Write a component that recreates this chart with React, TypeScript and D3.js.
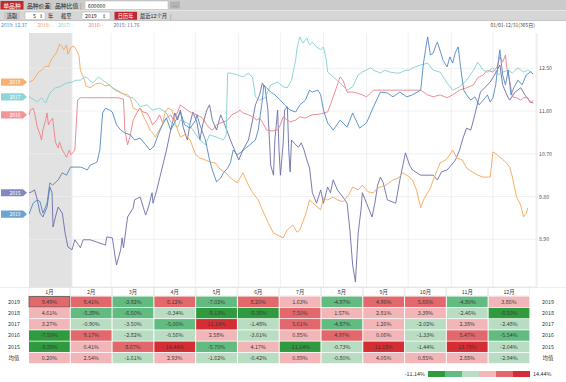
import React from "react";
import * as d3 from "d3";

const FONT = "'Noto Sans CJK SC', 'Noto Sans', sans-serif";

const MONTHS = ["1月", "2月", "3月", "4月", "5月", "6月", "7月", "8月", "9月", "10月", "11月", "12月"];
const MONTH_START_DAYS = [0, 31, 59, 90, 120, 151, 181, 212, 243, 273, 304, 334, 365];
const YEARS = ["2019", "2018", "2017", "2016", "2015"];
const Y_TICKS = [8.9, 9.8, 10.7, 11.6, 12.5];

const RET_2019 = [9.49, 9.41, -3.92, 6.12, -7.02, 8.2, 1.63, -4.97, 4.96, 5.66, -4.8, 3.86];
const RET_2018 = [4.61, -5.39, -6.5, -0.34, -9.13, -9.38, 7.5, 1.57, 2.81, 3.39, -2.46, -8.5];
const RET_2017 = [3.27, -0.9, -3.5, -5.0, 11.14, -1.48, 5.61, -4.87, 1.26, -2.02, 2.38, -2.48];
const RET_2016 = [-7.5, 9.17, -2.82, -0.56, 2.58, -3.61, 0.85, 4.97, 0.06, -1.33, 5.47, -5.54];
const RET_2015 = [-8.88, 0.41, 8.67, 14.44, -5.7, 4.17, -11.14, -0.73, 11.18, -1.44, 13.79, -2.04];
const RET_AVG = [0.2, 2.54, -1.61, 2.93, -1.62, -0.42, 0.89, -0.8, 4.05, 0.85, 2.88, -2.94];

// [day of year, price]
const S2018: [number, number][] = [
  [0, 12.21], [3, 12.25], [5, 12.34], [7, 12.42], [9, 12.46], [12, 12.55], [14, 12.53], [16, 12.68], [18, 12.76], [20, 12.84],
  [22, 13.01], [24, 12.95], [25, 12.89], [27, 12.99], [28, 12.8], [30, 12.93], [32, 12.97], [34, 12.89], [36, 12.76], [37, 12.46],
  [40, 12.25], [41, 12.13], [44, 12.09], [48, 12.17], [51, 12.19], [55, 12.13], [58, 12.15], [62, 12.04], [66, 11.98], [71, 11.94],
  [73, 11.88], [75, 11.66], [78, 11.62], [80, 11.66], [83, 11.45], [85, 11.35], [87, 11.2], [89, 11.14], [91, 11.05], [93, 11.16],
  [96, 11.31], [98, 11.58], [100, 11.66], [103, 11.62], [105, 11.37], [107, 11.2], [109, 11.05], [112, 11.1], [116, 10.99], [120, 10.68],
  [123, 10.61], [127, 10.57], [130, 10.53], [134, 10.51], [138, 10.36], [141, 10.32], [145, 10.19], [150, 10.09], [154, 10.3], [158, 10.04],
  [161, 9.88], [165, 9.73], [168, 9.52], [172, 9.26], [176, 9.03], [179, 8.99], [183, 8.93], [186, 9.1], [190, 9.2], [193, 9.05],
  [195, 9.1], [199, 9.41], [202, 9.73], [206, 9.62], [210, 9.52], [212, 9.77], [215, 9.73], [219, 9.79], [222, 9.73], [226, 9.69],
  [230, 9.83], [233, 10.0], [237, 9.94], [240, 10.04], [244, 9.9], [248, 9.88], [251, 9.98], [253, 10.0], [257, 10.04], [262, 10.15],
  [266, 10.19], [269, 10.3], [273, 10.23], [276, 10.15], [279, 9.94], [282, 9.56], [284, 9.73], [287, 9.88], [289, 9.98], [291, 10.15],
  [294, 10.36], [296, 10.51], [300, 10.57], [303, 10.68], [305, 10.78], [308, 10.61], [312, 10.57], [315, 10.4], [319, 10.32], [323, 10.25],
  [327, 10.21], [332, 10.21], [334, 10.74], [337, 10.68], [339, 10.63], [343, 10.53], [346, 10.42], [348, 10.21], [351, 9.79], [354, 9.62],
  [356, 9.37], [358, 9.45], [359, 9.56],
];

const S2017: [number, number][] = [
  [0, 11.9], [3, 11.85], [6, 11.79], [9, 11.88], [12, 11.77], [15, 11.98], [19, 12.09], [22, 12.11], [27, 12.19], [31, 12.21],
  [34, 12.25], [37, 12.25], [40, 12.32], [42, 12.3], [44, 12.23], [46, 12.19], [50, 12.32], [53, 12.25], [56, 12.19], [60, 12.09],
  [66, 12.0], [71, 11.9], [75, 11.88], [78, 11.77], [80, 11.69], [85, 11.73], [89, 11.62], [94, 11.66], [99, 11.56], [102, 11.37],
  [107, 11.26], [109, 11.41], [114, 11.35], [118, 11.2], [123, 10.99], [127, 10.89], [130, 11.1], [135, 11.05], [140, 10.99], [142, 11.1],
  [143, 12.4], [145, 12.4], [150, 12.36], [154, 12.32], [158, 12.4], [161, 12.3], [163, 11.9], [166, 11.83], [170, 11.88], [174, 12.15],
  [179, 12.21], [183, 12.11], [186, 12.09], [189, 12.25], [192, 12.68], [193, 12.93], [195, 13.16], [197, 13.03], [199, 13.1], [200, 13.14],
  [202, 12.99], [204, 13.05], [207, 12.95], [210, 12.89], [212, 12.95], [214, 12.68], [215, 12.42], [219, 12.32], [224, 12.19], [229, 12.04],
  [233, 12.11], [237, 12.36], [240, 12.42], [246, 12.51], [248, 12.46], [253, 12.4], [256, 12.46], [260, 12.42], [264, 12.4], [267, 12.4],
  [271, 12.46], [274, 12.46], [276, 12.51], [282, 12.57], [287, 12.61], [291, 12.46], [296, 12.42], [301, 12.19], [305, 12.04], [310, 12.11],
  [315, 12.25], [320, 12.46], [323, 12.63], [327, 12.46], [330, 12.42], [334, 12.51], [338, 12.36], [341, 12.42], [345, 12.46], [348, 12.4],
  [352, 12.51], [356, 12.42], [359, 12.46], [362, 12.42],
];

const S2016: [number, number][] = [
  [0, 11.52], [1, 11.62], [3, 11.66], [4, 11.56], [6, 11.26], [8, 11.1], [9, 10.99], [10, 11.2], [12, 11.41], [13, 11.56],
  [14, 11.31], [15, 11.37], [17, 11.45], [19, 10.95], [21, 10.82], [22, 10.95], [24, 10.78], [26, 10.68], [27, 10.63], [29, 10.78],
  [30, 10.68], [32, 10.74], [33, 10.78], [35, 11.83], [37, 11.88], [51, 11.88], [64, 11.88], [68, 11.85], [69, 11.2], [71, 10.89],
  [73, 11.1], [75, 11.41], [78, 11.58], [80, 11.66], [82, 11.58], [85, 11.56], [87, 11.45], [89, 11.31], [92, 11.41], [94, 11.52],
  [96, 11.37], [99, 11.45], [102, 11.52], [104, 11.41], [107, 11.58], [109, 11.73], [112, 11.66], [114, 11.62], [117, 11.56], [121, 11.52],
  [125, 11.45], [128, 11.31], [130, 11.24], [132, 11.2], [135, 11.31], [138, 11.35], [140, 11.37], [143, 11.41], [146, 11.52], [150, 11.58],
  [152, 11.62], [154, 11.56], [158, 11.52], [161, 11.48], [164, 11.41], [166, 11.45], [168, 11.37], [171, 11.2], [175, 11.18], [179, 11.2],
  [181, 11.31], [183, 11.48], [186, 11.41], [188, 11.37], [192, 11.41], [195, 11.48], [199, 11.45], [202, 11.5], [204, 11.52], [210, 11.54],
  [215, 11.58], [217, 11.73], [219, 11.9], [222, 12.15], [224, 12.32], [226, 12.25], [229, 12.0], [233, 12.0], [236, 11.98], [240, 11.94],
  [243, 11.9], [246, 11.98], [248, 12.04], [253, 12.04], [260, 12.04], [267, 12.04], [276, 12.04], [282, 12.04], [287, 11.94], [291, 11.9],
  [296, 11.94], [301, 11.88], [305, 11.94], [310, 12.04], [315, 12.09], [320, 12.15], [323, 12.3], [327, 12.36], [330, 12.46], [334, 12.42],
  [337, 12.53], [339, 12.74], [341, 12.63], [343, 12.78], [344, 12.51], [346, 12.25], [348, 11.9], [351, 11.88], [354, 11.83], [356, 11.88],
  [359, 11.88], [361, 11.77], [363, 11.83],
];

const S2019: [number, number][] = [
  [0, 9.43], [3, 9.66], [6, 9.73], [8, 9.69], [10, 9.45], [13, 9.66], [15, 10.09], [17, 10.04], [21, 10.15], [24, 10.3],
  [27, 10.25], [30, 10.42], [31, 10.42], [37, 10.42], [39, 10.4], [42, 10.36], [44, 10.46], [48, 10.51], [49, 10.53], [51, 10.78],
  [53, 11.56], [55, 11.66], [58, 11.62], [60, 11.58], [63, 11.31], [66, 11.2], [69, 11.14], [73, 11.1], [76, 10.99], [80, 11.03],
  [84, 10.89], [87, 10.78], [90, 10.86], [93, 11.1], [96, 11.31], [99, 11.45], [102, 11.2], [105, 11.37], [109, 11.58], [112, 11.31],
  [116, 11.24], [120, 11.41], [121, 11.52], [123, 11.31], [127, 10.99], [130, 10.57], [132, 10.36], [135, 10.11], [138, 10.19], [140, 10.3],
  [143, 10.4], [145, 10.51], [147, 10.78], [150, 10.68], [152, 10.72], [156, 10.82], [159, 10.89], [163, 10.99], [165, 11.2], [168, 11.83],
  [169, 12.15], [171, 12.09], [174, 12.0], [177, 11.94], [181, 11.83], [184, 11.73], [188, 11.62], [192, 11.58], [195, 11.73], [199, 11.83],
  [202, 12.04], [204, 12.0], [208, 12.04], [210, 11.94], [212, 11.62], [215, 11.35], [219, 11.2], [224, 11.41], [229, 11.26], [233, 11.56],
  [238, 11.24], [243, 11.35], [248, 11.69], [253, 12.0], [258, 11.98], [262, 11.9], [267, 12.0], [272, 11.9], [276, 11.94], [282, 12.04],
  [284, 12.61], [286, 12.99], [287, 13.16], [289, 12.78], [291, 12.82], [293, 12.99], [294, 13.05], [297, 12.78], [298, 12.67], [301, 12.53],
  [303, 12.74], [305, 12.61], [307, 12.84], [309, 12.95], [311, 12.46], [313, 12.04], [315, 11.94], [318, 11.83], [321, 11.9], [324, 11.73],
  [327, 11.83], [330, 11.94], [332, 11.79], [334, 11.88], [336, 12.15], [338, 12.68], [339, 12.89], [341, 12.36], [343, 12.15], [345, 12.46],
  [347, 11.94], [349, 12.09], [352, 12.25], [355, 12.15], [358, 12.36], [361, 12.42], [363, 12.38],
];

const S2015: [number, number][] = [
  [0, 9.88], [2, 9.9], [4, 9.94], [6, 9.73], [8, 9.45], [10, 9.37], [13, 9.58], [15, 10.0], [16.6, 9.88], [17.3, 9.16],
  [19, 9.37], [21, 9.58], [24, 9.45], [26, 9.03], [28, 8.74], [31, 8.68], [33, 8.89], [37, 8.72], [39, 8.89], [44, 8.89],
  [49, 8.84], [55, 8.78], [56, 8.95], [60, 8.93], [62, 8.53], [63, 8.36], [66, 8.68], [67, 8.93], [68, 8.72], [71, 9.37],
  [75, 9.56], [76, 9.73], [80, 9.79], [84, 9.41], [86, 9.58], [88.6, 9.88], [89.3, 9.66], [92, 9.94], [96, 10.42], [99, 10.78],
  [102, 11.2], [105, 11.56], [107, 11.41], [109, 11.62], [111, 11.26], [114, 10.99], [116, 11.35], [118, 11.58], [121, 11.35], [123, 10.99],
  [125, 11.31], [128, 11.62], [130, 11.73], [132, 11.41], [135, 11.2], [138, 11.52], [141, 11.31], [145, 10.99], [148, 10.78], [151, 10.57],
  [154, 10.78], [158, 10.99], [161, 11.41], [163, 11.73], [166, 11.94], [168, 12.19], [170, 12.09], [172, 11.62], [174, 10.46], [176, 10.25],
  [177, 10.99], [179, 11.62], [180, 10.78], [181, 10.25], [183, 10.93], [184, 11.62], [186, 11.69], [187, 10.78], [188, 10.32], [189, 10.99],
  [192, 10.89], [194, 10.84], [196, 10.93], [198, 10.78], [200, 10.57], [202, 10.4], [204, 9.88], [207, 9.66], [210, 9.94], [212, 9.66],
  [215, 10.0], [217, 9.88], [219, 10.15], [222, 9.94], [226, 9.79], [229, 9.66], [231, 9.1], [233, 8.36], [235, 8.0], [237, 9.03],
  [239, 9.52], [240, 9.88], [243, 9.66], [247, 9.37], [249, 9.66], [251, 10.04], [253, 10.21], [255, 10.09], [258, 9.73], [264, 9.66],
  [267, 10.15], [271, 10.72], [274, 10.46], [276, 10.36], [282, 10.25], [287, 10.25], [291, 10.25], [294, 10.15], [297, 10.32], [301, 10.36],
  [304, 10.46], [307, 10.57], [310, 10.78], [312, 10.99], [315, 11.24], [318, 11.2], [320, 11.41], [323, 11.77], [325, 12.0], [328, 12.09],
  [332, 12.21], [334, 12.3], [337, 12.46], [339, 12.57], [341, 12.15], [344, 11.94], [346, 11.83], [350, 12.0], [354, 12.09], [357, 11.94],
  [361, 11.79], [363, 11.77],
];

const LEGEND_TEXT = ["2019: 12.37", "2018: -", "2017: -", "2016: -", "2015: 11.76"];

const COL = {
  y2019: "#5089c2",
  y2018: "#f4a65a",
  y2017: "#80d0d2",
  y2016: "#ec8086",
  y2015: "#6a6ca8",
};

const CELL_COLORS = ["#2f9a3e", "#62bb80", "#b9ddc2", "#f3b6b8", "#e2686b", "#d42d33"];

export default function App() {
  const x = d3.scaleLinear().domain([0, 365]).range([29, 536]);
  const y = d3.scaleLinear().domain([7.896, 13.243]).range([287, 33]);
  const line = d3.line<[number, number]>().x((d) => x(d[0])).y((d) => y(d[1]));

  const series = [
    { name: "2015", data: S2015, color: COL.y2015, tag: "#8588c0" },
    { name: "2016", data: S2016, color: COL.y2016, tag: "#f0959a" },
    { name: "2017", data: S2017, color: COL.y2017, tag: "#8fd4d8" },
    { name: "2018", data: S2018, color: COL.y2018, tag: "#f5b273" },
    { name: "2019", data: S2019, color: COL.y2019, tag: "#6ea3cf" },
  ];

  const rows = [RET_2019, RET_2018, RET_2017, RET_2016, RET_2015];
  const all = rows.flat();
  const mn = d3.min(all) as number;
  const mx = d3.max(all) as number;
  const color = d3
    .scaleThreshold<number, string>()
    .domain([(mn * 2) / 3, mn / 3, 0, mx / 3, (mx * 2) / 3])
    .range(CELL_COLORS);

  const colX = d3.scaleBand<number>().domain(d3.range(12)).range([29, 529.4]).paddingInner(0.024);
  const rowY = d3.scaleBand<number>().domain(d3.range(6)).range([296.6, 363.2]).paddingInner(0.07);

  const legendColors = [COL.y2019, COL.y2018, COL.y2017, COL.y2016, COL.y2015];
  const legendX = [1, 37.5, 58, 88.5, 113.5];

  const fmt = (v: number) => v.toFixed(2) + "%";

  return (
    <div style={{ position: "absolute", left: 0, top: 0 }}>
      <svg width={566} height={382} style={{ display: "block", fontFamily: FONT }}>
        <rect x={0} y={0} width={566} height={382} fill="#ffffff" />
        {/* toolbar */}
        <rect x={0} y={0} width={566} height={10.5} fill="#cbcbcb" />
        <rect x={0} y={10.5} width={566} height={10} fill="#d6d6d6" />
        <line x1={0} x2={566} y1={10.5} y2={10.5} stroke="#e6e6e6" strokeWidth={0.8} />
        <line x1={0} x2={566} y1={20.5} y2={20.5} stroke="#bdbdbd" strokeWidth={0.8} />
        <rect x={0.5} y={1} width={23} height={8.5} fill="#c1272d" />
        <text x={12} y={8} fontSize={5.8} fill="#fff" textAnchor="middle">单品种</text>
        <text x={27} y={8} fontSize={5.8} fill="#222">品种价差</text>
        <text x={50} y={8} fontSize={5.8} fill="#777">|</text>
        <text x={55} y={8} fontSize={5.8} fill="#222">品种比值</text>
        <text x={80} y={8} fontSize={5.8} fill="#777">|</text>
        <rect x={85} y={1} width={83} height={8.5} fill="#fff" stroke="#b5b5b5" strokeWidth={0.5} />
        <text x={88} y={7.7} fontSize={5.2} fill="#222">600000</text>
        <rect x={170} y={1.5} width={10} height={7} fill="#b3b3b3" />
        <text x={175} y={6.5} fontSize={5} fill="#777" textAnchor="middle">...</text>
        <rect x={4} y={11.5} width={16} height={8} fill="#c9c9c9" />
        <text x={12} y={17.8} fontSize={5.3} fill="#222" textAnchor="middle">选取</text>
        <rect x={25} y={12} width={20} height={7.5} fill="#fff" stroke="#b5b5b5" strokeWidth={0.5} />
        <text x={36} y={17.8} fontSize={5.3} fill="#222" textAnchor="end">5</text>
        <text x={41} y={17.5} fontSize={5} fill="#555" textAnchor="middle">⇕</text>
        <text x={48} y={17.8} fontSize={5.3} fill="#222">年</text>
        <text x={61} y={17.8} fontSize={5.3} fill="#222">截至</text>
        <rect x={82} y={12} width={28} height={7.5} fill="#fff" stroke="#b5b5b5" strokeWidth={0.5} />
        <text x={85} y={17.8} fontSize={5.3} fill="#222">2019</text>
        <text x={104} y={17.5} fontSize={5} fill="#555" textAnchor="middle">⇕</text>
        <rect x={114.5} y={11.8} width={22.5} height={8} fill="#c1272d" />
        <text x={125.7} y={17.9} fontSize={5.3} fill="#fff" textAnchor="middle">日历年</text>
        <text x={140} y={17.8} fontSize={5.3} fill="#222">最近12个月</text>
        <text x={170} y={17.8} fontSize={5.3} fill="#777">|</text>

        {/* legend line */}
        {LEGEND_TEXT.map((t, i) => (
          <text key={t} x={legendX[i]} y={26.8} fontSize={5} fill={legendColors[i]}>{t}</text>
        ))}
        <text x={535} y={26.8} fontSize={5} fill="#444" textAnchor="end">01/01-12/31(365日)</text>

        {/* plot area */}
        <rect x={x(0)} y={33} width={x(31) - x(0)} height={254} fill="#e2e2e2" />
        {MONTH_START_DAYS.slice(1).map((d) => (
          <line key={"v" + d} x1={x(d)} x2={x(d)} y1={33} y2={287} stroke="#ececec" strokeWidth={0.8} />
        ))}
        {Y_TICKS.map((t) => (
          <g key={"h" + t}>
            <line x1={29} x2={537} y1={y(t)} y2={y(t)} stroke="#ececec" strokeWidth={0.8} />
            <text x={539} y={y(t) + 2} fontSize={5.2} fill="#555">{t.toFixed(2)}</text>
          </g>
        ))}
        <line x1={29} x2={537} y1={287} y2={287} stroke="#e4e4e4" strokeWidth={0.8} />
        <line x1={537} x2={537} y1={33} y2={287} stroke="#e4e4e4" strokeWidth={0.8} />

        {series.map((s) => (
          <path key={s.name} d={line(s.data) || ""} fill="none" stroke={s.color} strokeWidth={0.9} strokeLinejoin="round" />
        ))}

        {/* left tags */}
        {series.map((s) => {
          const cy = y(s.data[0][1]);
          return (
            <g key={"tag" + s.name}>
              <path
                d={`M1,${cy - 3.6} L23,${cy - 3.6} L27,${cy} L23,${cy + 3.6} L1,${cy + 3.6} Z`}
                fill={s.tag}
              />
              <text x={15} y={cy + 1.8} fontSize={5} fill="#fff" textAnchor="middle">{s.name}</text>
            </g>
          );
        })}

        {/* table header */}
        {MONTHS.map((m, i) => (
          <g key={m}>
            <rect x={colX(i)} y={287.5} width={colX.bandwidth()} height={8.5} fill="#fff" stroke="#e2e2e2" strokeWidth={0.6} />
            <text x={(colX(i) as number) + colX.bandwidth() / 2} y={293.8} fontSize={5.3} fill="#333" textAnchor="middle">{m}</text>
          </g>
        ))}
        <line x1={0} x2={566} y1={287.5} y2={287.5} stroke="#e2e2e2" strokeWidth={0.6} />

        {[...rows, RET_AVG].map((r, ri) => {
          const label = ri < 5 ? YEARS[ri] : "均值";
          const top = rowY(ri) as number;
          const h = rowY.bandwidth();
          return (
            <g key={"row" + ri}>
              <text x={14} y={top + h / 2 + 1.9} fontSize={5.4} fill="#333" textAnchor="middle">{label}</text>
              <text x={548} y={top + h / 2 + 1.9} fontSize={5.4} fill="#333" textAnchor="middle">{label}</text>
              {r.map((v, ci) => (
                <g key={ci}>
                  <rect
                    x={colX(ci)}
                    y={top}
                    width={colX.bandwidth()}
                    height={h}
                    fill={color(v)}
                    stroke={ri === 0 && ci === 0 ? "#555" : "none"}
                    strokeWidth={0.8}
                  />
                  <text
                    x={(colX(ci) as number) + colX.bandwidth() / 2}
                    y={top + h / 2 + 1.9}
                    fontSize={5.4}
                    fill="#3a3a3a"
                    textAnchor="middle"
                  >
                    {fmt(v)}
                  </text>
                </g>
              ))}
            </g>
          );
        })}

        {/* color legend */}
        <text x={425} y={375.8} fontSize={5.4} fill="#333" textAnchor="end">{fmt(mn)}</text>
        {CELL_COLORS.map((c, i) => (
          <rect key={c} x={428 + i * 17} y={371} width={17} height={6} fill={c} />
        ))}
        <text x={533} y={375.8} fontSize={5.4} fill="#333">{fmt(mx)}</text>
      </svg>
    </div>
  );
}
